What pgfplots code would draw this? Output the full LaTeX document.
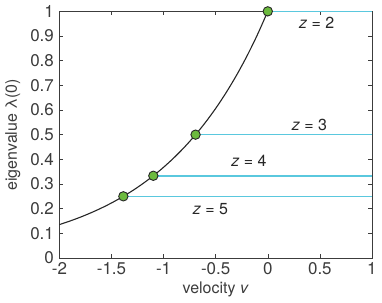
\documentclass[border=0pt]{standalone}
\usepackage{pgfplots}
\pgfplotsset{compat=1.18}
\usepackage{fontspec}
\setmainfont{TeX Gyre Heros}
\setsansfont{TeX Gyre Heros}
\definecolor{ptgreen}{RGB}{108,186,62}
\definecolor{lncyan}{RGB}{90,200,222}
\definecolor{axgray}{RGB}{60,60,60}
\begin{document}
\fontsize{16}{19}\selectfont
\begin{tikzpicture}
\begin{axis}[
  scale only axis, width=313pt, height=247pt,
  xmin=-2, xmax=1, ymin=0, ymax=1,
  xtick={-2,-1.5,...,1}, ytick={0,0.1,...,1},
  xticklabels={-2,-1.5,-1,-0.5,0,0.5,1},
  yticklabels={0,0.1,0.2,0.3,0.4,0.5,0.6,0.7,0.8,0.9,1},
  tick align=inside, tick pos=both,
  major tick length=4pt,
  axis line style={axgray, line width=0.6pt},
  tick style={axgray, line width=0.5pt},
  ticklabel style={text=axgray, font=\fontsize{17}{20}\selectfont},
  yticklabel style={xshift=0pt},
  xticklabel style={yshift=1pt},
  /pgf/number format/assume math mode=true,
  xlabel={velocity \textit{v}},
  ylabel={eigenvalue λ(0)},
  label style={text=axgray, font=\fontsize{16}{19}\selectfont},
  xlabel style={yshift=4pt},
  ylabel style={yshift=-1pt},
  clip=false,
]
\addplot[lncyan, line width=1.5pt] coordinates {(0,1) (1,1)};
\addplot[lncyan, line width=1.5pt] coordinates {(-0.6931,0.5) (1,0.5)};
\addplot[lncyan, line width=1.5pt] coordinates {(-1.0986,0.3333) (1,0.3333)};
\addplot[lncyan, line width=1.5pt] coordinates {(-1.3863,0.25) (1,0.25)};
\addplot[black!85, line width=1.1pt, smooth] coordinates {
(-2.0,0.1353) (-1.9,0.1496) (-1.8,0.1653) (-1.7,0.1827) (-1.6,0.2019)
(-1.5,0.2231) (-1.4,0.2466) (-1.3,0.2725) (-1.2,0.3012) (-1.1,0.3329)
(-1.0,0.3679) (-0.9,0.4066) (-0.8,0.4493) (-0.7,0.4966) (-0.6,0.5488)
(-0.5,0.6065) (-0.4,0.6703) (-0.3,0.7408) (-0.2,0.8187) (-0.1,0.9048)
(0,1.0)};
\addplot[only marks, mark=*, mark size=4.7pt, mark options={fill=ptgreen, draw=black!85, line width=0.9pt}] coordinates {
(0,1) (-0.6931,0.5) (-1.0986,0.3333) (-1.3863,0.25)};
\node[text=black!85] at (axis cs:0.47,0.952) {\textit{z} = 2};
\node[text=black!85] at (axis cs:0.40,0.54) {\textit{z} = 3};
\node[text=black!85] at (axis cs:-0.18,0.393) {\textit{z} = 4};
\node[text=black!85] at (axis cs:-0.55,0.198) {\textit{z} = 5};
\end{axis}
\end{tikzpicture}
\end{document}
